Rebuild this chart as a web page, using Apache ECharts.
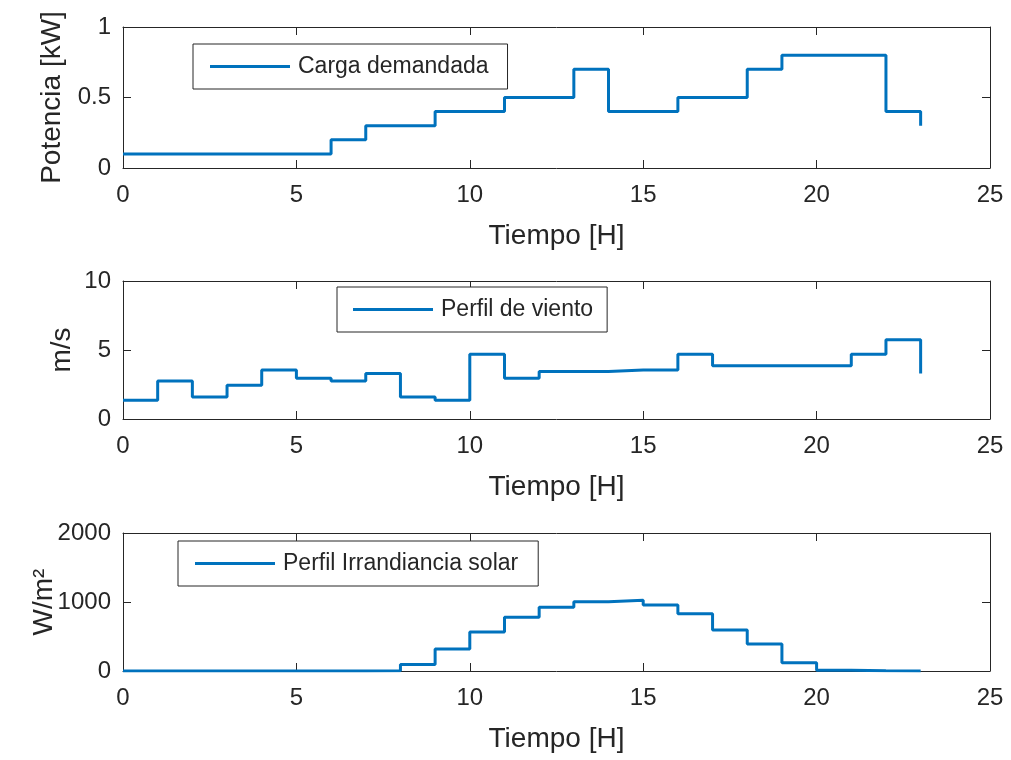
<!DOCTYPE html>
<html>
<head>
<meta charset="utf-8">
<script src="https://cdn.jsdelivr.net/npm/echarts@6/dist/echarts.min.js"></script>
<style>
html,body{margin:0;padding:0;background:#fff;}
#chart{width:1011px;height:760px;}
</style>
</head>
<body>
<div id="chart"></div>
<script>
const hours = [0,1,2,3,4,5,6,7,8,9,10,11,12,13,14,15,16,17,18,19,20,21,22,23];
const carga = [0.1,0.1,0.1,0.1,0.1,0.1,0.2,0.3,0.3,0.4,0.4,0.5,0.5,0.7,0.4,0.4,0.5,0.5,0.7,0.8,0.8,0.8,0.4,0.3];
const viento = [1.35,2.75,1.6,2.45,3.55,2.95,2.75,3.3,1.6,1.35,4.7,2.95,3.45,3.45,3.55,3.55,4.7,3.85,3.85,3.85,3.85,4.7,5.75,3.3];
const irradiancia = [0,0,0,0,0,0,0,5,95,320,565,780,925,1005,1025,955,830,595,390,120,10,2,0,0];
const seriesNames = ['Carga demandada','Perfil de viento','Perfil Irrandiancia solar'];
const yNames = ['Potencia [kW]','m/s','W/m\u00B2'];
const yRanges = [[0,1,0.5],[0,10,5],[0,2000,1000]];
const xName = 'Tiempo [H]';
const xRange = [0,25,5];

const FONT = "'Liberation Sans', Arial, sans-serif";
const TXT = '#262626';
const BLUE = '#0072BD';

const grids = [
  {left:123, right:21, top:27, height:141},
  {left:123, right:21, top:281, height:138},
  {left:123, right:21, top:533, height:138}
];
const yNameGaps = [57, 47, 65];
const legendPos = [
  {left:193, top:44},
  {left:337, top:287},
  {left:178, top:541}
];
const legendPad = [
  [11,19,11,17],
  [11,14,11,16],
  [11,20,11,17]
];
const dataSets = [carga, viento, irradiancia];

const xAxes = [], yAxes = [], series = [], legends = [];
grids.forEach((g, i) => {
  xAxes.push({
    type:'value', gridIndex:i, min:xRange[0], max:xRange[1], interval:xRange[2],
    position:'bottom',
    name:xName, nameLocation:'middle', nameGap:54, nameMoveOverlap:false,
    nameTextStyle:{fontSize:28, fontFamily:FONT, color:TXT},
    axisLine:{show:true, onZero:false, lineStyle:{color:TXT, width:1}},
    axisTick:{show:true, inside:true, length:8, lineStyle:{color:TXT}},
    axisLabel:{fontSize:24, fontFamily:FONT, color:TXT, margin:15, formatter:v => String(v)},
    splitLine:{show:false}
  });
  xAxes.push({
    type:'value', gridIndex:i, min:xRange[0], max:xRange[1], interval:xRange[2],
    position:'top',
    axisLine:{show:true, onZero:false, lineStyle:{color:TXT, width:1}},
    axisTick:{show:true, inside:true, length:8, lineStyle:{color:TXT}},
    axisLabel:{show:false},
    splitLine:{show:false}
  });
  const r = yRanges[i];
  yAxes.push({
    type:'value', gridIndex:i, min:r[0], max:r[1], interval:r[2],
    position:'left',
    name:yNames[i], nameLocation:'middle', nameGap:yNameGaps[i], nameMoveOverlap:false,
    nameTextStyle:{fontSize:28, fontFamily:FONT, color:TXT},
    axisLine:{show:true, onZero:false, lineStyle:{color:TXT, width:1}},
    axisTick:{show:true, inside:true, length:8, lineStyle:{color:TXT}},
    axisLabel:{fontSize:24, fontFamily:FONT, color:TXT, margin:12, formatter:v => String(v)},
    splitLine:{show:false}
  });
  yAxes.push({
    type:'value', gridIndex:i, min:r[0], max:r[1], interval:r[2],
    position:'right',
    axisLine:{show:true, onZero:false, lineStyle:{color:TXT, width:1}},
    axisTick:{show:true, inside:true, length:8, lineStyle:{color:TXT}},
    axisLabel:{show:false},
    splitLine:{show:false}
  });
  series.push({
    name:seriesNames[i], type:'line', step:'end',
    xAxisIndex:i*2, yAxisIndex:i*2,
    data:hours.map((h, k) => [h, dataSets[i][k]]),
    showSymbol:false, symbol:'none',
    lineStyle:{color:BLUE, width:3},
    itemStyle:{color:BLUE},
    animation:false
  });
  legends.push({
    data:[seriesNames[i]], left:legendPos[i].left, top:legendPos[i].top,
    selectedMode:false, icon:'rect', itemWidth:80, itemHeight:3,
    borderColor:TXT, borderWidth:1, backgroundColor:'#fff',
    padding:legendPad[i],
    textStyle:{fontSize:23, fontFamily:FONT, color:TXT, padding:[0,0,0,3]}
  });
});

const chart = echarts.init(document.getElementById('chart'), null, {renderer:'canvas'});
chart.setOption({
  backgroundColor:'#fff',
  animation:false,
  grid:grids,
  xAxis:xAxes,
  yAxis:yAxes,
  legend:legends,
  series:series
});
</script>
</body>
</html>
